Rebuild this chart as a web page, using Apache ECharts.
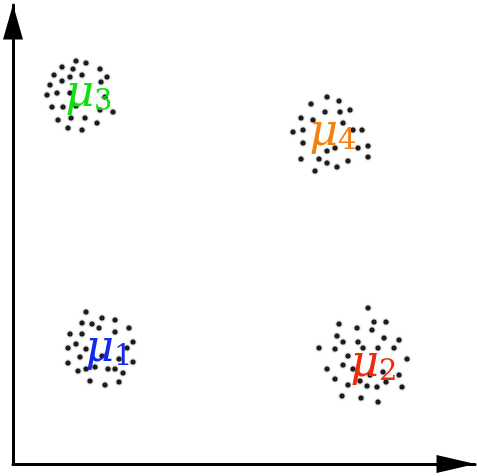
<!DOCTYPE html>
<html>
<head>
<meta charset="utf-8">
<script src="https://cdn.jsdelivr.net/npm/echarts@6/dist/echarts.min.js"></script>
<style>html,body{margin:0;padding:0;background:#fff}#c{width:477px;height:476px}</style>
</head>
<body>
<div id="c"></div>
<script>
// Cluster points (x, y)
const cluster1 = [[73,152],[89,146],[102,144],[69,141],[79,140],[86,136],[116,136],[57,130],[69,130],[102,132],[63,120],[55,116],[73,115],[120,122],[114,116],[67,107],[89,108],[106,105],[55,101],[65,93],[73,95],[82,97],[95,95],[102,95],[110,91],[120,102],[77,83],[92,79],[106,82]];
const cluster2 = [[355,156],[326,140],[344,136],[361,142],[373,142],[359,134],[324,128],[330,122],[345,122],[371,126],[386,124],[306,116],[322,115],[350,116],[365,116],[381,116],[335,108],[394,105],[330,99],[314,95],[340,95],[370,92],[386,89],[322,85],[347,83],[357,89],[335,79],[354,78],[364,77],[373,82],[389,77],[329,68],[348,66],[365,62]];
const cluster3 = [[63,403],[73,401],[49,397],[60,395],[87,395],[41,389],[57,387],[69,389],[94,387],[49,383],[88,382],[37,379],[44,371],[34,369],[57,371],[92,367],[39,357],[50,357],[63,358],[87,354],[100,352],[45,344],[58,346],[72,346],[84,341],[55,336],[69,334]];
const cluster4 = [[314,367],[326,363],[298,360],[312,352],[327,352],[337,354],[288,346],[300,344],[330,341],[280,332],[290,334],[340,334],[349,334],[290,321],[314,313],[322,316],[345,316],[355,318],[288,305],[306,305],[314,301],[324,297],[335,303],[355,307],[302,293]];
// Cluster means (label anchors) and their names
const meanNames = ['1','2','3','4'];
const meanPos = [[96,114],[361,99],[76,369],[320,330]];
const meanColors = ['#1428f0','#f02a0a','#10e010','#f58010'];

const chart = echarts.init(document.getElementById('c'));
const dotStyle = {color:'#1c1c1c', opacity:1, shadowBlur:2, shadowColor:'rgba(0,0,0,0.7)'};
const clusters = [cluster1, cluster2, cluster3, cluster4];
const series = clusters.map(c => ({type:'scatter', data:c, symbolSize:5, itemStyle:dotStyle, silent:true, z:2}));
series.push({
  type:'scatter', symbolSize:0, z:5, silent:true, itemStyle:{opacity:1},
  data: meanPos.map((p,i)=>({
    value:p,
    label:{
      show:true, position:'inside', align:'center', verticalAlign:'middle', opacity:1,
      formatter:'{m|μ}{s|'+meanNames[i]+'}',
      rich:{
        m:{fontFamily:'"DejaVu Serif", serif', fontStyle:'italic', fontSize:44, color:meanColors[i], opacity:1},
        s:{fontFamily:'"DejaVu Serif", serif', fontSize:29, color:meanColors[i], verticalAlign:'bottom', opacity:1, padding:[0,0,0,0]}
      }
    }
  }))
});

chart.setOption({
  animation:false,
  grid:{left:13, right:2, top:5, bottom:12},
  xAxis:{type:'value', min:0, max:462, axisLine:{show:true, lineStyle:{color:'#000', width:3}, symbol:['none','triangle'], symbolSize:[18,39], symbolOffset:[0,-19]},
    axisTick:{show:false}, axisLabel:{show:false}, splitLine:{show:false}},
  yAxis:{type:'value', min:0, max:459, axisLine:{show:true, lineStyle:{color:'#000', width:3}, symbol:['none','triangle'], symbolSize:[20,35], symbolOffset:[0,-17]},
    axisTick:{show:false}, axisLabel:{show:false}, splitLine:{show:false}},
  series: series
});
</script>
</body>
</html>
